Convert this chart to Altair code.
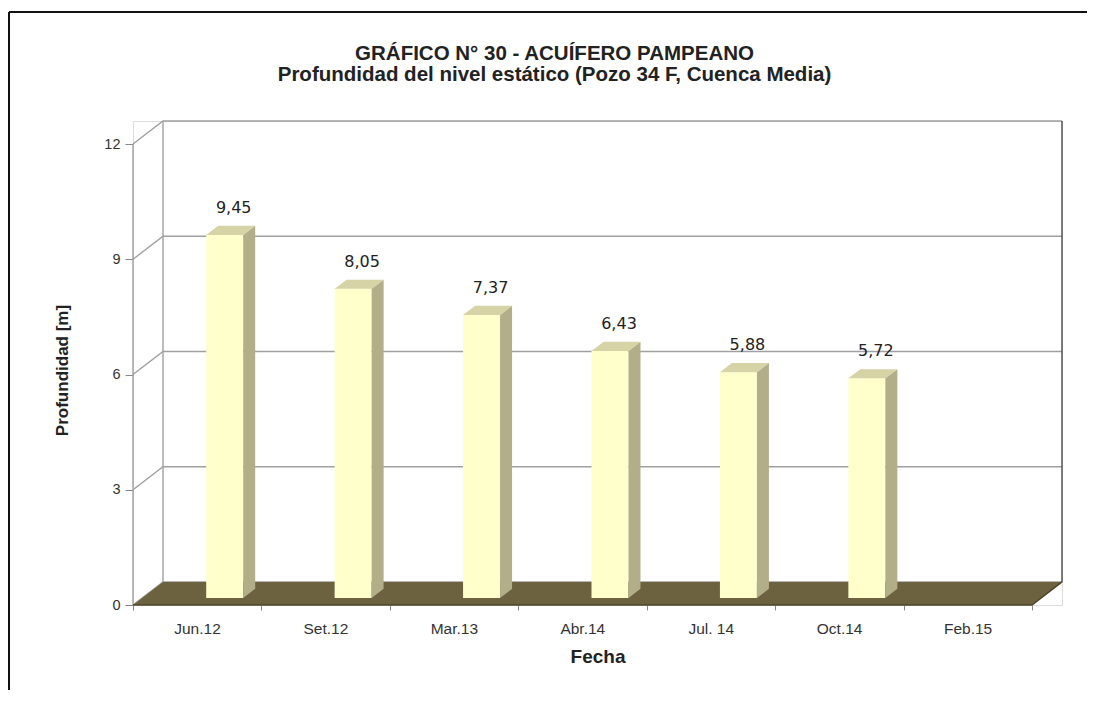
import json
import altair as alt
import pandas as pd

# ---- data ----
categories = ["Jun.12", "Set.12", "Mar.13", "Abr.14", "Jul. 14", "Oct.14", "Feb.15"]
values = [9.45, 8.05, 7.37, 6.43, 5.88, 5.72]          # Feb.15 has no value
y_ticks = [0, 3, 6, 9, 12]
title_lines = ["GRÁFICO N° 30 - ACUÍFERO PAMPEANO",
               "Profundidad del nivel estático (Pozo 34 F, Cuenca Media)"]

# ---- pseudo-3D geometry (style constants, in scale units) ----
KX = 0.2336      # horizontal depth shift (category units)
KY = 0.60        # vertical depth shift (value units)
BW = 0.288       # bar width (category units)
D0, D1 = 0.3, 0.7  # bar depth range
N = len(categories)

FRONT = "#ffffcc"
SIDE = "#b2ae88"
TOP = "#d6d3a6"
FLOOR = "#6c6240"
GRID = "#a0a0a0"
FONT = "Liberation Sans"

xs = alt.Scale(domain=[0, N + KX], nice=False, zero=False)
ys = alt.Scale(domain=[0, 12 + KY], nice=False, zero=False)

# bars
front_rows, side_rows, top_rows, label_rows = [], [], [], []
for i, v in enumerate(values):
    x0 = i + 0.5 + D0 * KX
    x1 = x0 + BW
    front_rows.append(dict(id=i, x0=x0, x1=x1, y0=D0 * KY, y1=v + D0 * KY))
    side_rows += [dict(id=i, x=x1, lo=D0 * KY, hi=v + D0 * KY),
                  dict(id=i, x=x1 + (D1 - D0) * KX, lo=D1 * KY, hi=v + D1 * KY)]
    top_rows += [dict(id=i, x=x0, lo=v + D0 * KY, hi=v + D0 * KY),
                 dict(id=i, x=x0 + (D1 - D0) * KX, lo=v + D0 * KY, hi=v + D1 * KY),
                 dict(id=i, x=x1, lo=v + D0 * KY, hi=v + D1 * KY),
                 dict(id=i, x=x1 + (D1 - D0) * KX, lo=v + D1 * KY, hi=v + D1 * KY)]
    label_rows.append(dict(x=x0 + BW / 2 + D0 * KX, y=v + D1 * KY, v=v))

front_df = pd.DataFrame(front_rows)
side_df = pd.DataFrame(side_rows)
top_df = pd.DataFrame(top_rows)
label_df = pd.DataFrame(label_rows)

floor_df = pd.DataFrame(dict(x=[0, KX, N, N + KX], lo=[0, 0, 0, KY], hi=[0, KY, KY, KY]))

grid_rows = []
for t in y_ticks:
    grid_rows += [dict(g=f"g{t}", k=0, x=0, y=t),
                  dict(g=f"g{t}", k=1, x=KX, y=t + KY),
                  dict(g=f"g{t}", k=2, x=N + KX, y=t + KY)]
grid_rows += [dict(g="front", k=0, x=0, y=0), dict(g="front", k=1, x=0, y=max(y_ticks)),
              dict(g="backl", k=0, x=KX, y=KY), dict(g="backl", k=1, x=KX, y=max(y_ticks) + KY)]
grid_df = pd.DataFrame(grid_rows)
edge_df = pd.DataFrame(dict(g=["r", "r"], k=[0, 1], x=[N + KX, N + KX], y=[KY, max(y_ticks) + KY]))
floor_edge_df = pd.DataFrame(dict(k=[0, 1, 2], x=[0, N, N + KX], y=[0, 0, KY]))

label_expr = "(" + json.dumps(categories) + ")[datum.value] || ''"

x_axis = alt.Axis(values=list(range(N + 1)), labelExpr=label_expr, labelOffset=64,
                  labelFlush=False, labelOverlap=False, domain=False, grid=False,
                  tickSize=5, tickColor="#888", labelFont=FONT, labelFontSize=15.5,
                  labelColor="#333", labelPadding=11,
                  title="Fecha", titleFont=FONT, titleFontSize=19, titleFontWeight="bold",
                  titleColor="#222", titleY=57, titleBaseline="alphabetic")
y_axis = alt.Axis(values=y_ticks, domain=False, grid=False, tickSize=8, tickColor="#888",
                  labelFont=FONT, labelFontSize=14.5, labelColor="#333", labelPadding=5,
                  title="Profundidad [m]", titleFont=FONT, titleFontSize=17,
                  titleFontWeight="bold", titleColor="#222", titleAngle=-90,
                  titleX=-71, titleY=249, titleAlign="center", titleBaseline="middle")


def X(f):
    return alt.X(f, scale=xs, axis=x_axis, title="Fecha")


def Y(f, stack=False):
    if stack:
        return alt.Y(f, scale=ys, axis=y_axis, title="Profundidad [m]", stack=None)
    return alt.Y(f, scale=ys, axis=y_axis, title="Profundidad [m]")


grid = alt.Chart(grid_df).mark_line(color=GRID, strokeWidth=1.4).encode(
    x=X("x:Q"), y=Y("y:Q"), detail="g:N", order="k:Q")

edge = alt.Chart(edge_df).mark_line(color="#555", strokeWidth=1.5).encode(
    x=X("x:Q"), y=Y("y:Q"), order="k:Q")

floor = alt.Chart(floor_df).mark_area(color=FLOOR, opacity=1).encode(
    x=X("x:Q"), y=Y("lo:Q", True), y2="hi:Q")

floor_edge = alt.Chart(floor_edge_df).mark_line(color="#4d4529", strokeWidth=1.5).encode(
    x=X("x:Q"), y=Y("y:Q"), order="k:Q")

front = alt.Chart(front_df).mark_rect(color=FRONT).encode(
    x=X("x0:Q"), x2="x1:Q", y=Y("y0:Q"), y2="y1:Q")

side = alt.Chart(side_df).mark_area(color=SIDE, opacity=1).encode(
    x=X("x:Q"), y=Y("lo:Q", True), y2="hi:Q", detail="id:N")

top = alt.Chart(top_df).mark_area(color=TOP, opacity=1).encode(
    x=X("x:Q"), y=Y("lo:Q", True), y2="hi:Q", detail="id:N")

labels = alt.Chart(label_df).transform_calculate(
    txt="replace(format(datum.v, '.2f'), '.', ',')"
).mark_text(font="DejaVu Sans", fontSize=16, color="#222", dy=-13,
            baseline="alphabetic", align="center").encode(
    x=X("x:Q"), y=Y("y:Q"), text="txt:N")

border_top = alt.Chart(pd.DataFrame({"a": [0]})).mark_rule(color="#111", strokeWidth=2).encode(
    x=alt.value(-124), x2=alt.value(1000), y=alt.value(-109))
border_left = alt.Chart(pd.DataFrame({"a": [0]})).mark_rule(color="#111", strokeWidth=2).encode(
    x=alt.value(-124), y=alt.value(-109), y2=alt.value(700))

chart = alt.layer(grid, edge, floor, floor_edge, front, side, top, labels,
                  border_top, border_left).properties(
    width=929, height=484,
    title=alt.TitleParams(text=title_lines, font=FONT, fontSize=20.5, fontWeight="bold",
                          color="#222", anchor="middle", dx=-43, offset=-74, lineHeight=21),
    autosize=alt.AutoSizeParams(type="none"),
    padding={"left": 125, "top": 113, "right": 25, "bottom": 85},
).configure_view(stroke=None).configure(background="white")

chart.save("out.html", embed_options={"renderer": "svg", "actions": False})
